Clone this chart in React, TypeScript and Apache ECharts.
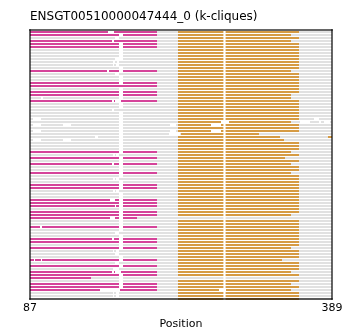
import React, { useEffect, useRef } from "react";
import * as echarts from "echarts";

const chartTitle = "ENSGT00510000047444_0 (k-cliques)";
const axisName = "Position";
const xTicks = [87, 389];
const xMin = 87;
const xMax = 389;
const rowCount = 90;
const grayRange = [87, 389];

const magentaRange = [87, 214];
const magentaRows = [0, 1, 3, 4, 5, 13, 17, 18, 20, 21, 23, 40, 42, 44, 47, 51, 52, 56, 57, 58, 60, 61, 62, 65, 69, 70, 72, 76, 78, 80, 81, 82, 84, 85, 86];
const magentaShortEnds = [[62, 194], [82, 148]];

const orangeStart = 235;
const orangeEnd = [
  356, 348, 356, 348, 356, 356, 356, 356, 356, 356,
  356, 356, 356, 348, 356, 356, 356, 356, 356, 356,
  356, 348, 348, 356, 356, 356, 356, 356, 356, 356,
  348, 356, 356, 356, 0, 0, 341, 356, 356, 356,
  348, 356, 342, 356, 348, 356, 356, 348, 356, 356,
  356, 356, 356, 356, 356, 356, 356, 356, 356, 356,
  356, 348, 0, 356, 356, 356, 356, 356, 356, 356,
  356, 356, 348, 356, 356, 356, 339, 356, 356, 356,
  348, 356, 0, 356, 348, 356, 348, 356, 356, 356,
];
const orangeExtra = [[34, 238, 316], [35, 235, 337], [35, 385, 389]];

const gapAStart = [
  0, 176, 172, 0, 176, 176, 176, 176, 176, 176,
  0, 0, 176, 176, 172, 176, 176, 176, 0, 176,
  176, 176, 176, 0, 176, 176, 0, 176, 176, 176,
  176, 176, 176, 176, 176, 176, 176, 176, 176, 176,
  176, 0, 176, 176, 176, 176, 176, 176, 176, 0,
  176, 176, 176, 0, 176, 176, 176, 176, 176, 176,
  176, 176, 176, 176, 176, 176, 176, 172, 176, 176,
  176, 176, 176, 0, 172, 176, 176, 172, 176, 0,
  0, 176, 176, 176, 176, 176, 0, 0, 0, 0,
];
const gapAWidth = 4;
const gapB = [280.4, 282.6];
const extraGaps = [
  [0, 165, 171], [3, 169, 171], [9, 172, 176], [10, 170, 172], [10, 174, 176],
  [11, 170, 171], [11, 173, 176], [13, 164, 166], [22, 98, 100], [23, 169, 171],
  [23, 172, 178], [26, 169, 171], [29, 90, 98], [29, 371, 376], [30, 357, 367],
  [30, 376, 378], [30, 381, 387], [30, 278, 286], [31, 90, 98], [31, 120, 128],
  [31, 227, 233], [31, 268, 278], [33, 90, 98], [33, 227, 233], [33, 268, 278],
  [34, 226, 237], [35, 152, 155], [36, 90, 98], [36, 120, 128], [41, 170, 172],
  [41, 173, 176], [44, 169, 171], [49, 170, 172], [49, 173, 176], [53, 170, 172],
  [53, 173, 176], [56, 167, 172], [58, 172, 173], [62, 167, 172], [65, 97, 99],
  [69, 169, 171], [73, 170, 171], [73, 173, 176], [76, 91, 92], [76, 98, 99],
  [79, 170, 176], [80, 169, 171], [80, 172, 178], [86, 157, 177], [86, 276, 283],
  [87, 170, 171], [87, 173, 176], [88, 170, 171], [88, 173, 176],
];

const kindColors = ["#e1e1e1", "#d5449a", "#d69b44", "#ffffff"];
const frameColor = "rgba(0,0,0,0.6)";
const font = "DejaVu Sans";

function buildSegments() {
  const segs: number[][] = [];
  for (let r = 0; r < rowCount; r++) segs.push([r, grayRange[0], grayRange[1], 0]);
  magentaRows.forEach((r) => {
    const short = magentaShortEnds.find((m) => m[0] === r);
    segs.push([r, magentaRange[0], short ? short[1] : magentaRange[1], 1]);
  });
  orangeEnd.forEach((e, r) => {
    if (e > 0) segs.push([r, orangeStart, e, 2]);
  });
  orangeExtra.forEach((o) => segs.push([o[0], o[1], o[2], 2]));
  gapAStart.forEach((s, r) => {
    if (s > 0) segs.push([r, s, s + gapAWidth, 3]);
  });
  for (let r = 0; r < rowCount; r++) segs.push([r, gapB[0], gapB[1], 3]);
  extraGaps.forEach((g) => segs.push([g[0], g[1], g[2], 3]));
  return segs;
}

export default function App() {
  const ref = useRef<HTMLDivElement>(null);
  useEffect(() => {
    if (!ref.current) return;
    const chart = echarts.init(ref.current, null, { renderer: "svg" });
    const frameAxis = {
      z: 10,
      axisLine: { show: true, onZero: false, lineStyle: { color: frameColor, width: 2 } },
      axisTick: { show: false },
      splitLine: { show: false },
    };
    chart.setOption({
      animation: false,
      textStyle: { fontFamily: font },
      title: {
        text: chartTitle,
        left: 30,
        top: 10,
        padding: 0,
        textStyle: { fontSize: 12, fontWeight: "normal", color: "#000", fontFamily: font },
      },
      grid: { left: 30, right: 30, top: 30, bottom: 31, containLabel: false, outerBoundsMode: "none" },
      xAxis: [
        {
          ...frameAxis,
          type: "value",
          min: xMin,
          max: xMax,
          position: "bottom",
          axisLabel: { customValues: xTicks, fontSize: 11, color: "#000", fontFamily: font, margin: 3 },
          name: axisName,
          nameLocation: "middle",
          nameGap: 17,
          nameTextStyle: { fontSize: 11, color: "#000", fontFamily: font },
        },
        { ...frameAxis, type: "value", min: xMin, max: xMax, position: "top", axisLabel: { show: false } },
      ],
      yAxis: [
        { ...frameAxis, type: "value", min: -0.667, max: rowCount - 1, inverse: true, position: "left", axisLabel: { show: false } },
        { ...frameAxis, type: "value", min: -0.667, max: rowCount - 1, inverse: true, position: "right", axisLabel: { show: false } },
      ],
      series: [
        {
          type: "custom",
          xAxisIndex: 0,
          yAxisIndex: 0,
          clip: false,
          encode: { x: [1, 2], y: 0 },
          data: buildSegments(),
          renderItem: (params: any, api: any) => {
            const row = api.value(0);
            const p1 = api.coord([api.value(1), row]);
            const p2 = api.coord([api.value(2), row]);
            return {
              type: "rect",
              shape: { x: p1[0], y: p1[1] - 1, width: p2[0] - p1[0], height: 2 },
              style: { fill: kindColors[api.value(3)] },
            };
          },
        },
      ],
    });
    return () => chart.dispose();
  }, []);
  return <div ref={ref} style={{ position: "fixed", left: 0, top: 0, width: 362, height: 330 }} />;
}
